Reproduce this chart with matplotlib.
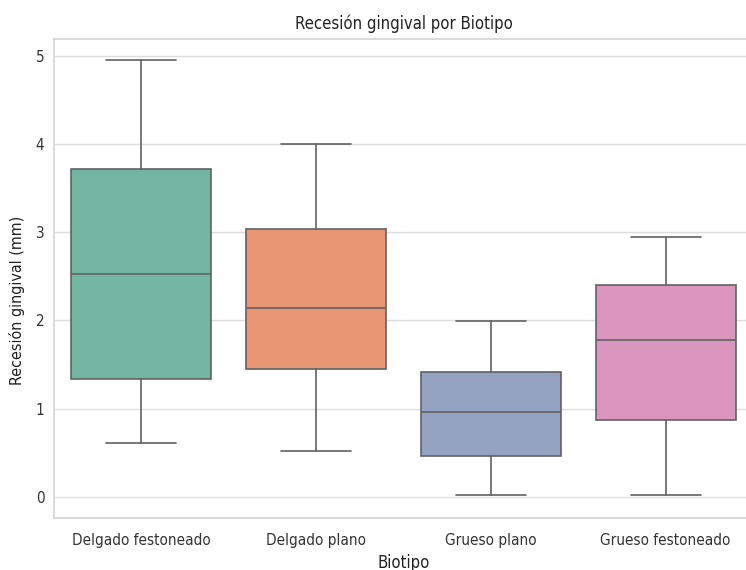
import matplotlib
matplotlib.use("Agg")
import matplotlib.pyplot as plt
import seaborn as sns

sns.set_theme(style="whitegrid")
plt.rcParams['font.family'] = ['DejaVu Sans']

# Summary statistics of gingival recession (mm) per biotype
biotipos = ["Delgado festoneado", "Delgado plano", "Grueso plano", "Grueso festoneado"]
whisker_low = [0.61, 0.52, 0.02, 0.02]
q1 = [1.34, 1.45, 0.46, 0.87]
median = [2.53, 2.14, 0.96, 1.78]
q3 = [3.72, 3.04, 1.42, 2.40]
whisker_high = [4.95, 4.00, 1.99, 2.94]

palette = [sns.desaturate(c, 0.75) for c in sns.color_palette("Set2", 4)]
line_color = "#626262"

stats = [
    dict(label=b, whislo=lo, q1=a, med=m, q3=c, whishi=hi, fliers=[])
    for b, lo, a, m, c, hi in zip(biotipos, whisker_low, q1, median, q3, whisker_high)
]

fig = plt.figure(figsize=(7.46, 5.70), dpi=100)
ax = fig.add_axes([54 / 746, 52 / 570, 699 / 746, 479 / 570])

line_kw = dict(color=line_color, linewidth=1.2)
bp = ax.bxp(stats, positions=range(len(biotipos)), widths=0.8, patch_artist=True,
            showfliers=False,
            boxprops=dict(edgecolor=line_color, linewidth=1.2),
            medianprops=line_kw, whiskerprops=line_kw, capprops=line_kw)
for patch, col in zip(bp["boxes"], palette):
    patch.set_facecolor(col)

ax.set_xlim(-0.5, len(biotipos) - 0.5)
ax.set_ylim(-0.24, 5.19)
ax.set_yticks(range(6))
ax.xaxis.grid(False)
ax.yaxis.grid(True, color="#dddddd", linewidth=1.0)
for sp in ax.spines.values():
    sp.set_color("#d4d4d4")
    sp.set_linewidth(1.2)

ax.tick_params(axis="both", labelsize=11, colors="#333333", length=0)
ax.tick_params(axis="x", pad=11)
ax.tick_params(axis="y", pad=7)
for lab in ax.get_xticklabels() + ax.get_yticklabels():
    lab.set_fontstretch("condensed")
ax.set_title("Recesión gingival por Biotipo", fontsize=12, fontstretch="condensed",
             color="#222222", pad=7)
ax.set_xlabel("Biotipo", fontsize=12, fontstretch="condensed", color="#222222", labelpad=4)
ax.set_ylabel("Recesión gingival (mm)", fontsize=11.5, fontstretch="condensed",
              color="#222222")
ax.yaxis.set_label_coords(-0.041, 0.455)

fig.savefig("out.png", dpi=100)
